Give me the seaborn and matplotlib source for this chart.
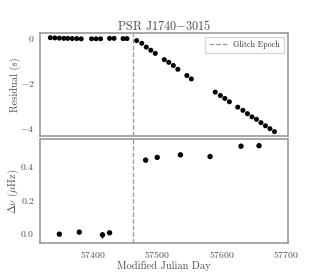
import numpy as np
import pandas as pd
import seaborn as sns
import matplotlib
matplotlib.use("Agg")
import matplotlib.pyplot as plt

# timing residuals
res_mjd = [57334, 57341, 57348, 57355, 57361, 57368, 57375, 57382,
           57398, 57405, 57412, 57426, 57433, 57447, 57453,
           57468, 57476, 57483, 57490, 57497, 57511, 57518, 57525, 57532,
           57546, 57553, 57590, 57598, 57605, 57612, 57625, 57633, 57640,
           57647, 57654, 57661, 57668, 57675, 57682]
residual = [0.03, 0.02, 0.01, 0.0, 0.0, -0.01, -0.01, -0.02,
            -0.02, -0.02, -0.02, 0.0, 0.0, -0.01, -0.01,
            -0.10, -0.22, -0.39, -0.53, -0.67, -0.95, -1.07, -1.21, -1.38,
            -1.66, -1.81, -2.40, -2.55, -2.68, -2.83, -3.07, -3.21, -3.36,
            -3.50, -3.61, -3.76, -3.90, -4.03, -4.16]

# frequency offsets
nu_mjd = [57348, 57379, 57415, 57426, 57482, 57500, 57536, 57582, 57630, 57658]
dnu = [-0.004, 0.008, -0.008, 0.004, 0.433, 0.449, 0.464, 0.454, 0.515, 0.518]
dnu_err = [0.004, 0.004, 0.018, 0.004, 0.014, 0.006, 0.005, 0.005, 0.005, 0.005]

glitch_epoch = 57463

sns.set_style("white")
plt.rcParams['font.family'] = ['cmr10', 'DejaVu Serif']
plt.rcParams['mathtext.fontset'] = 'cm'
plt.rcParams['axes.formatter.use_mathtext'] = True
plt.rcParams['axes.unicode_minus'] = True

df_res = pd.DataFrame({"mjd": res_mjd, "res": residual})
df_nu = pd.DataFrame({"mjd": nu_mjd, "dnu": dnu, "err": dnu_err})

fig, (ax1, ax2) = plt.subplots(2, 1, figsize=(3.2, 2.73), dpi=100, sharex=True,
                               gridspec_kw={"hspace": 0.03})
fig.subplots_adjust(left=0.125, right=0.9, top=0.88, bottom=0.11)

sns.scatterplot(data=df_res, x="mjd", y="res", ax=ax1, color="black",
                s=13, edgecolor="none")
ax1.axvline(glitch_epoch, color="0.6", ls="--", lw=0.9, label="Glitch Epoch")
ax1.set_ylim(-4.37, 0.25)
ax1.set_yticks([0, -2, -4])
ax1.set_ylabel("Residual (s)", fontsize=7.5, color="0.3")
ax1.set_xlabel("")
ax1.set_title("PSR J1740$-$3015", fontsize=8.8, pad=2, color="0.3")
ax1.legend(loc="upper right", fontsize=5.8, frameon=True, handlelength=2.2,
           borderpad=0.5, labelcolor="0.2")

ax2.errorbar(df_nu["mjd"], df_nu["dnu"], yerr=df_nu["err"], fmt="none",
             ecolor="black", elinewidth=1.0, capsize=0)
sns.scatterplot(data=df_nu, x="mjd", y="dnu", ax=ax2, color="black",
                s=15, edgecolor="none")
ax2.axvline(glitch_epoch, color="0.6", ls="--", lw=0.9)
ax2.set_ylim(-0.056, 0.555)
ax2.set_yticks([0.0, 0.2, 0.4])
ax2.set_xlim(57318, 57703)
ax2.set_xticks([57400, 57500, 57600, 57700])
ax2.set_ylabel(r"$\Delta\nu$ ($\mu$Hz)", fontsize=7.5, color="0.3")
ax2.set_xlabel("Modified Julian Day", fontsize=7.5, labelpad=1, color="0.3")

for ax in (ax1, ax2):
    ax.yaxis.set_label_coords(-0.075, 0.5)
    for sp in ax.spines.values():
        sp.set_color("0.6")
        sp.set_linewidth(1.2)
    ax.tick_params(axis="both", labelsize=7, length=2, width=0.8,
                   color="0.5", direction="out", pad=2, labelcolor="0.3")

fig.savefig("out.png", dpi=100)
